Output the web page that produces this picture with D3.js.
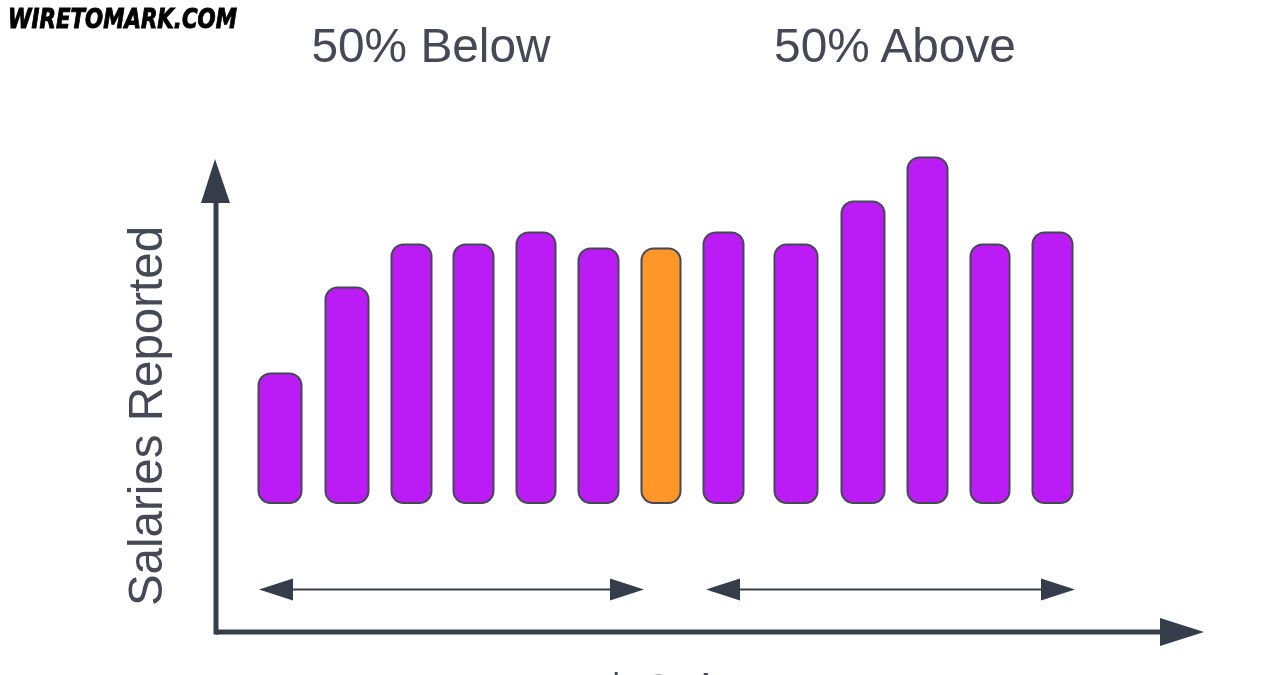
<!DOCTYPE html>
<html>
<head>
<meta charset="utf-8">
<script src="https://cdn.jsdelivr.net/npm/d3@7"></script>
<style>
  html, body { margin: 0; padding: 0; background: #fff; }
  svg { display: block; }
</style>
</head>
<body>
<div id="chart"></div>
<script>
// bin edges are read off the picture, the axis has no printed units
let binStart = [43.5, 110.5, 176.5, 238.5, 301.5, 363.5, 426.5, 488.5, 559.5, 626.5, 692.5, 755.5, 817.5];
let binWidth = [43, 43, 40, 40, 39, 40, 39, 40, 43, 43, 40, 39, 40];
let reported = [129.5, 215.5, 258.5, 258.5, 270.5, 254.5, 254.5, 270.5, 258.5, 301.5, 345.5, 258.5, 270.5];
let medianIndex = 6;

let groupLabels = ["50% Below", "50% Above"];
let groupFrom = [44, 491];
let groupTo = [429, 860];
let yLabel = "Salaries Reported";
let xLabel = "$ Salary";
let watermark = "WIRETOMARK.COM";

var width = 1280, height = 675;
var dark = "#363d4c";

var svg = d3.select("#chart")
    .append("svg")
    .attr("width", width)
    .attr("height", height);

var defs = svg.append("defs");
defs.append("filter").attr("id", "soft")
    .append("feGaussianBlur").attr("stdDeviation", 0.65);

var x = d3.scaleLinear().domain([0, 985]).range([215, 1200]);
var y = d3.scaleLinear().domain([0, 346]).range([503, 157]);

var g = svg.append("g").attr("filter", "url(#soft)");

// bars
g.selectAll("rect.bar")
    .data(reported)
    .enter()
    .append("rect")
    .attr("class", "bar")
    .attr("x", function(d, i) { return x(binStart[i]); })
    .attr("y", function(d) { return y(d); })
    .attr("width", function(d, i) { return x(binStart[i] + binWidth[i]) - x(binStart[i]); })
    .attr("height", function(d) { return y(0) - y(d); })
    .attr("rx", 12)
    .style("fill", function(d, i) { return i === medianIndex ? "#ff962c" : "#bb1cf5"; })
    .style("stroke", "#444957")
    .style("stroke-width", 2);

// main axes
var axisX = 216, axisY = 632;
g.append("line")
    .attr("x1", axisX).attr("x2", axisX)
    .attr("y1", axisY + 2.5).attr("y2", 200)
    .style("stroke", dark).style("stroke-width", 5);
g.append("line")
    .attr("x1", axisX).attr("x2", 1165)
    .attr("y1", axisY).attr("y2", axisY)
    .style("stroke", dark).style("stroke-width", 5);
g.append("path")
    .attr("d", d3.line()([[201, 203], [215, 159], [230, 203]]) + "Z")
    .style("fill", dark);
g.append("path")
    .attr("d", d3.line()([[1160, 618], [1204, 632], [1160, 646]]) + "Z")
    .style("fill", dark);

// the two double arrows under the bars
var arrowY = 589.5;
groupLabels.forEach(function(label, i) {
    var a = x(groupFrom[i]), b = x(groupTo[i]);
    g.append("line")
        .attr("x1", a + 20).attr("x2", b - 20)
        .attr("y1", arrowY).attr("y2", arrowY)
        .style("stroke", dark).style("stroke-width", 2);
    g.append("path")
        .attr("d", d3.line()([[a, arrowY], [a + 34, arrowY - 11], [a + 34, arrowY + 11]]) + "Z")
        .style("fill", dark);
    g.append("path")
        .attr("d", d3.line()([[b, arrowY], [b - 34, arrowY - 11], [b - 34, arrowY + 11]]) + "Z")
        .style("fill", dark);
});

// text
var textFont = "'Liberation Sans', Arial, sans-serif";
var textGrey = "#454a56";
var labelX = [431, 895];
g.selectAll("text.group")
    .data(groupLabels)
    .enter()
    .append("text")
    .attr("class", "group")
    .attr("x", function(d, i) { return labelX[i]; })
    .attr("y", 62)
    .attr("text-anchor", "middle")
    .style("font-family", textFont)
    .style("font-size", "47.8px")
    .style("fill", textGrey)
    .text(function(d) { return d; });

g.append("text")
    .attr("transform", "translate(162,416) rotate(-90)")
    .attr("text-anchor", "middle")
    .style("font-family", textFont)
    .style("font-size", "47.5px")
    .style("fill", textGrey)
    .text(yLabel);

g.append("text")
    .attr("x", 690)
    .attr("y", 708)
    .attr("text-anchor", "middle")
    .style("font-family", textFont)
    .style("font-size", "47.5px")
    .style("fill", textGrey)
    .text(xLabel);

svg.append("text")
    .attr("x", 8)
    .attr("y", 28)
    .attr("textLength", 229)
    .attr("lengthAdjust", "spacingAndGlyphs")
    .style("font-family", "'DejaVu Sans', sans-serif")
    .style("font-weight", "bold")
    .style("font-style", "italic")
    .style("font-size", "27px")
    .style("fill", "#000")
    .style("stroke", "#000")
    .style("stroke-width", 1)
    .text(watermark);
</script>
</body>
</html>
